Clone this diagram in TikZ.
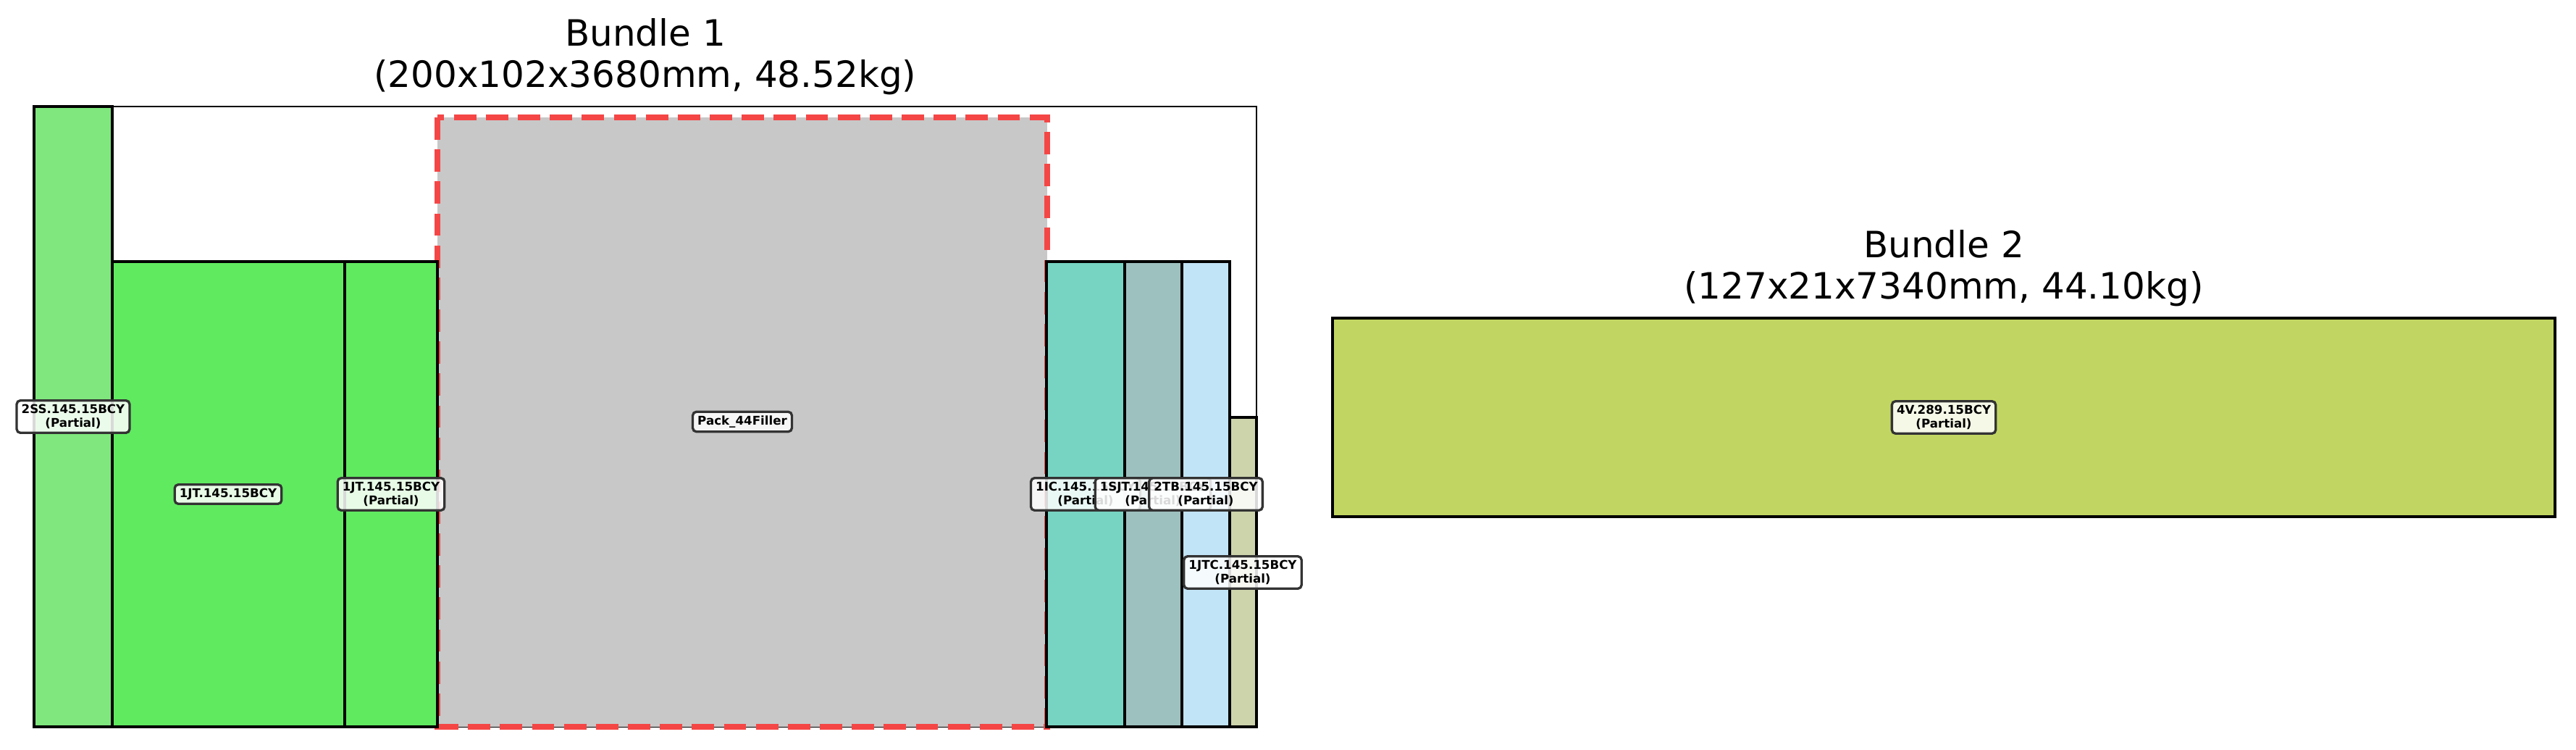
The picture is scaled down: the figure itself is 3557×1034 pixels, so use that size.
\documentclass[tikz,border=0pt]{standalone}
\usepackage{fontspec}
\setmainfont{DejaVu Sans}
\definecolor{ssgreen}{RGB}{127,231,125}
\definecolor{jtgreen}{RGB}{96,234,96}
\definecolor{icteal}{RGB}{119,212,194}
\definecolor{sjtgrey}{RGB}{157,193,191}
\definecolor{tbblue}{RGB}{194,228,247}
\definecolor{jtckhaki}{RGB}{205,211,171}
\definecolor{vlime}{RGB}{193,214,98}
\definecolor{fillgrey}{RGB}{200,200,200}
\definecolor{fillred}{RGB}{245,70,70}

\begin{document}
\begin{tikzpicture}[x=0.24pt,y=-0.24pt,
	item/.style={draw=black,line width=1pt},
	tag/.style={draw=black!80,line width=0.8pt,rounded corners=1.2pt,fill=white,fill opacity=0.85,text opacity=1,
		font=\bfseries\fontsize{4}{4.6}\selectfont,align=center,inner xsep=1.6pt,inner ysep=1.3pt},
	title/.style={font=\fontsize{12}{13.7}\selectfont,align=center}]
\useasboundingbox (0,0) rectangle (3557,1034);
% Bundle 1
\draw[line width=0.6pt] (47,147) rectangle (1735,1003);
\fill[fillgrey] (604,162) rectangle (1446,1003);
\draw[fillred,line width=2pt,dash pattern=on 7.4pt off 3.2pt] (604,162) rectangle (1446,1003);
\draw[item,fill=ssgreen] (47,147) rectangle (155,1003);
\foreach \a/\b/\c in {155/476/jtgreen,476/604/jtgreen,1445/1553/icteal,1553/1632/sjtgrey,1632/1698/tbblue}{
	\draw[item,fill=\c] (\a,361) rectangle (\b,1003);
}
\draw[item,fill=jtckhaki] (1698,576) rectangle (1735,1003);
\node (b1) [title] at (891,78) {Bundle 1\\(200x102x3680mm, 48.52kg)};
\node (ss) [tag] at (101,575) {2SS.145.15BCY\\(Partial)};
\node (jt) [tag] at (315,682) {1JT.145.15BCY};
\node (jtp) [tag] at (540,682) {1JT.145.15BCY\\(Partial)};
\node (filler) [tag] at (1025,582) {Pack\_44Filler};
\node (ic) [tag] at (1499,682) {1IC.145.15BCY\\(Partial)};
\node (sjt) [tag] at (1592,682) {1SJT.145.15BCY\\(Partial)};
\node (tb) [tag] at (1665,682) {2TB.145.15BCY\\(Partial)};
\node (jtc) [tag] at (1716,790) {1JTC.145.15BCY\\(Partial)};
% Bundle 2
\draw[item,fill=vlime] (1840,439) rectangle (3528,713);
\node (b2) [title] at (2684,370) {Bundle 2\\(127x21x7340mm, 44.10kg)};
\node (v) [tag] at (2684,576) {4V.289.15BCY\\(Partial)};
\end{tikzpicture}
\end{document}
